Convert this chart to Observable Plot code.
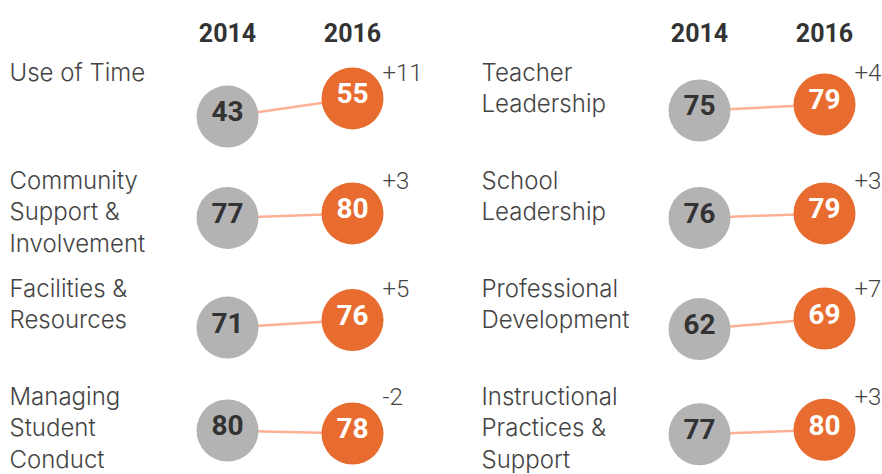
<!DOCTYPE html>
<html><head><meta charset="utf-8">
<script src="https://cdn.jsdelivr.net/npm/d3@7"></script>
<script src="https://cdn.jsdelivr.net/npm/@observablehq/plot@0.6"></script>
<style>
html,body{margin:0;padding:0;background:#fff}
#chart{width:882px;height:474px}
</style>
</head><body><div id="chart"></div>
<script>
// ---- data ----
const panels = ["left", "right"];
const years = ["2014", "2016"];
const categories = [
  "Use of Time", "Community\nSupport &\nInvolvement", "Facilities &\nResources", "Managing\nStudent\nConduct",
  "Teacher\nLeadership", "School\nLeadership", "Professional\nDevelopment", "Instructional\nPractices &\nSupport"
];
const panelOf = ["left", "left", "left", "left", "right", "right", "right", "right"];
const rowOf = [0, 1, 2, 3, 0, 1, 2, 3];
const values2014 = [43, 77, 71, 80, 75, 76, 62, 77];
const values2016 = [55, 80, 76, 78, 79, 79, 69, 80];
const diffLabels = ["+11", "+3", "+5", "-2", "+4", "+3", "+7", "+3"];

// ---- derived tables ----
const K = 0.0139; // rows per score point (slope inside a row)
const rows = categories.map((label, i) => {
  const mean = (values2014[i] + values2016[i]) / 2;
  return {
    panel: panelOf[i], row: rowOf[i], label,
    y14: rowOf[i] - (values2014[i] - mean) * K,
    y16: rowOf[i] - (values2016[i] - mean) * K,
    diff: diffLabels[i]
  };
});
const points = [];
categories.forEach((c, i) => {
  const r = rows[i];
  points.push({panel: r.panel, year: "2014", value: values2014[i], y: r.y14});
  points.push({panel: r.panel, year: "2016", value: values2016[i], y: r.y16});
});
const headers = panels.flatMap(p => years.map(y => ({panel: p, year: y})));

const GRAY = "#b3b3b3", ORANGE = "#e86b2f", LINK = "#fcb196", DARK = "#333333", LABEL = "#444444";
const CIRCLE_DY = 27;
const LIGHT_FONT = "Inter, Roboto, sans-serif";

const chart = Plot.plot({
  width: 882, height: 474,
  marginLeft: 0, marginRight: 0, marginTop: 80, marginBottom: 69.5,
  style: {fontFamily: "Roboto, sans-serif", background: "#fff"},
  fx: {domain: panels, paddingInner: 0.135, paddingOuter: 0, axis: null, label: null},
  x: {type: "point", domain: years, padding: 0, insetLeft: 226, insetRight: 57, axis: null},
  y: {domain: [0, 3], reverse: true, axis: null},
  marks: [
    Plot.link(rows, {fx: "panel", x1: d => "2014", x2: d => "2016", y1: "y14", y2: "y16",
      stroke: LINK, strokeWidth: 2.5, dy: CIRCLE_DY}),
    Plot.dot(points.filter(d => d.year === "2014"), {fx: "panel", x: "year", y: "y", r: 31, fill: GRAY, stroke: null, dy: CIRCLE_DY}),
    Plot.dot(points.filter(d => d.year === "2016"), {fx: "panel", x: "year", y: "y", r: 31, fill: ORANGE, stroke: null, dy: CIRCLE_DY}),
    Plot.text(points.filter(d => d.year === "2014"), {fx: "panel", x: "year", y: "y", text: "value",
      fill: DARK, fontSize: 28, fontWeight: 700, dy: CIRCLE_DY - 4}),
    Plot.text(points.filter(d => d.year === "2016"), {fx: "panel", x: "year", y: "y", text: "value",
      fill: "#fff", fontSize: 28, fontWeight: 700, dy: CIRCLE_DY - 4}),
    Plot.text(headers, {fx: "panel", x: "year", text: "year", frameAnchor: "top", dy: -56,
      fill: DARK, fontSize: 25, fontWeight: 700}),
    Plot.text(rows, {fx: "panel", y: "row", text: "label", frameAnchor: "left", textAnchor: "start",
      lineAnchor: "top", dx: 8, dy: -22.3, fontSize: 24, lineHeight: 1.31, fill: LABEL, fontWeight: 300,
      fontFamily: LIGHT_FONT}),
    Plot.text(rows, {fx: "panel", x: d => "2016", y: "row", text: "diff", textAnchor: "start",
      lineAnchor: "top", dx: 30, dy: -17, fontSize: 24, fill: LABEL, fontWeight: 300,
      fontFamily: "Roboto, sans-serif"})
  ]
});
document.getElementById("chart").appendChild(chart);
</script>
</body></html>
